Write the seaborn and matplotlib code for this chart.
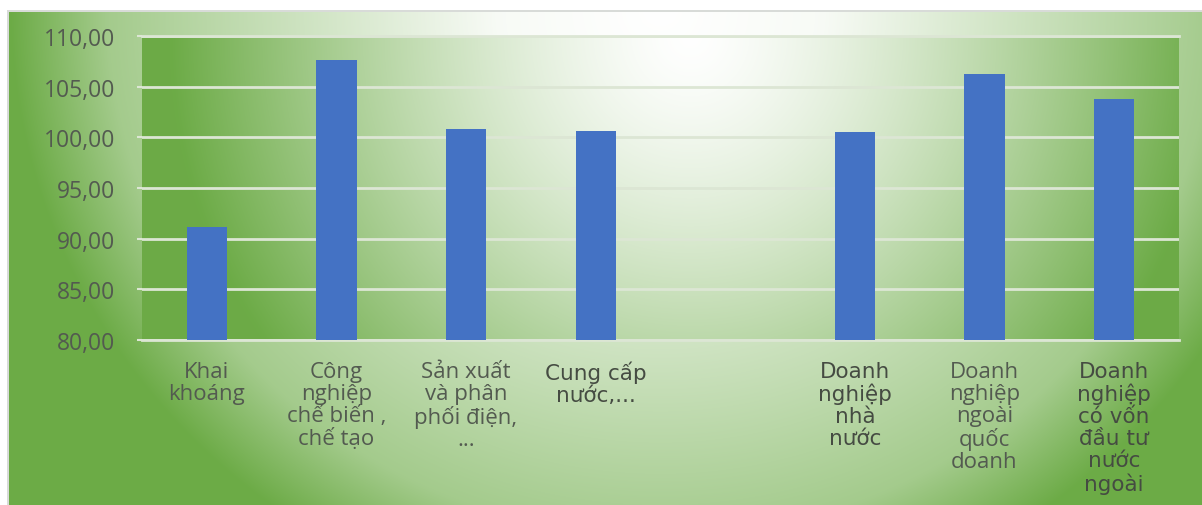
import numpy as np
import pandas as pd
import matplotlib
matplotlib.use("Agg")
import matplotlib.pyplot as plt
import seaborn as sns

# Chỉ số sản xuất công nghiệp theo ngành và theo loại hình doanh nghiệp
categories = [
    "Khai khoáng",
    "Công nghiệp chế biến, chế tạo",
    "Sản xuất và phân phối điện",
    "Cung cấp nước",
    "Doanh nghiệp nhà nước",
    "Doanh nghiệp ngoài quốc doanh",
    "Doanh nghiệp có vốn đầu tư nước ngoài",
]
values = [91.2, 107.6, 100.85, 100.6, 100.5, 106.25, 103.8]

# an empty slot separates the two groups
gap = " "
slots = categories[:4] + [gap] + categories[4:]

tick_labels = [
    "Khai\nkhoáng",
    "Công\nnghiệp\nchế biến ,\nchế tạo",
    "Sản xuất\nvà phân\nphối điện,\n...",
    "Cung cấp\nnước,...",
    "",
    "Doanh\nnghiệp\nnhà\nnước",
    "Doanh\nnghiệp\nngoài\nquốc\ndoanh",
    "Doanh\nnghiệp\ncó vốn\nđầu tư\nnước\nngoài",
]
y_ticks = [80, 85, 90, 95, 100, 105, 110]

df = pd.DataFrame({"nganh": categories, "chi_so": values})

W, H = 1202, 506
BAR = "#4472C4"
GRID = "#DCE6D4"
TEXT = "#535a50"
TEXT_DARK = "#454b42"
GREEN = np.array([108, 171, 70]) / 255.0


def radial(w, h, cx, cy, rx, ry, stops, levels):
    yy, xx = np.mgrid[0:h, 0:w]
    d = np.sqrt(((xx - cx) / rx) ** 2 + ((yy - cy) / ry) ** 2)
    s = np.interp(d, stops, levels)
    return (1 - s)[..., None] * 1.0 + s[..., None] * GREEN


fig = plt.figure(figsize=(W / 100, H / 100), dpi=100)

# chart-area fill
bg = fig.add_axes([0, 0, 1, 1])
img = radial(W, H, 660, 10, 650, 620,
             [0, 0.25, 0.85, 1.0], [0, 0.05, 0.62, 1.0])
img[:, :7] = 1.0
img[:11, :] = 1.0
img[11:13, 7:] = np.array([0.85, 0.86, 0.85])
img[11:, 7:9] = np.array([0.85, 0.86, 0.85])
bg.imshow(img, extent=(0, W, H, 0), aspect="auto", interpolation="bilinear")
bg.set_xlim(0, W)
bg.set_ylim(H, 0)
bg.axis("off")

# plot area
left, right, top, bottom = 142, 1179, 37, 341
ax = fig.add_axes([left / W, 1 - bottom / H, (right - left) / W, (bottom - top) / H])
ax.set_facecolor("none")

sns.barplot(data=df, x="nganh", y="chi_so", order=slots, color=BAR,
            saturation=1, width=0.31, errorbar=None, ax=ax, zorder=2)

pw, ph = right - left, bottom - top
dd = np.linspace(0, 1, 21)
plot_img = radial(pw, ph, 690 - left, 0, 520, 530, dd, dd ** 1.4)
ax.imshow(plot_img, extent=(-0.5, 7.5, 80, 110), aspect="auto",
          interpolation="bilinear", zorder=0)

ax.set_xlim(-0.5, 7.5)
ax.set_ylim(80, 110)
ax.set_yticks(y_ticks)
ax.set_yticklabels([f"{v:.2f}".replace(".", ",") for v in y_ticks])
ax.yaxis.grid(True, color=GRID, linewidth=2)
ax.xaxis.grid(False)
ax.set_axisbelow(True)
for side in ["left", "right"]:
    ax.spines[side].set_visible(False)
for side in ["top", "bottom"]:
    ax.spines[side].set_color(GRID)
    ax.spines[side].set_linewidth(2)
    ax.spines[side].set_zorder(1)

ax.set_xlabel("")
ax.set_ylabel("")
ax.set_xticks(range(len(slots)))
ax.set_xticklabels(tick_labels)
ax.tick_params(axis="y", length=3.6, width=1.5, color=GRID, pad=15.5,
               labelsize=16.5, labelcolor=TEXT)
ax.tick_params(axis="x", length=0, pad=15)

for lab in ax.get_yticklabels():
    lab.set_fontfamily(["Open Sans", "DejaVu Sans"])

wide = {3, 5, 7}
for i, lab in enumerate(ax.get_xticklabels()):
    if i in wide:
        lab.set_fontfamily(["DejaVu Sans"])
        lab.set_fontsize(15.5)
        lab.set_linespacing(1.12)
        lab.set_color(TEXT_DARK)
    else:
        lab.set_fontfamily(["Open Sans", "DejaVu Sans"])
        lab.set_fontsize(16)
        lab.set_linespacing(1.06)
        lab.set_color(TEXT)

fig.savefig("out.png", dpi=100)
